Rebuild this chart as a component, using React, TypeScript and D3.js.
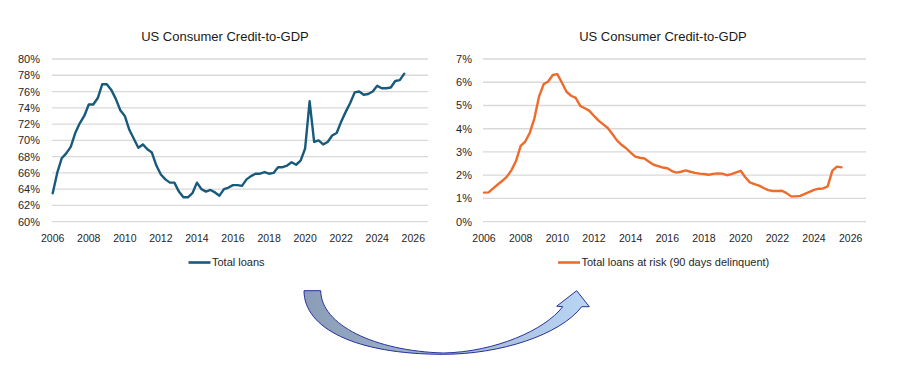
import React from "react";
import * as d3 from "d3";

// Quarterly data, 2006Q1 .. 2025Q3
const startYear = 2006;
const totalLoans = [
  63.5, 66.0, 67.8, 68.4, 69.2, 70.9, 72.1, 73.0, 74.4, 74.4,
  75.2, 76.9, 76.9, 76.2, 75.1, 73.7, 73.0, 71.3, 70.2, 69.1,
  69.5, 68.9, 68.5, 66.9, 65.8, 65.2, 64.8, 64.8, 63.7, 63.0,
  63.0, 63.5, 64.8, 64.0, 63.7, 63.9, 63.6, 63.2, 64.0, 64.2,
  64.5, 64.5, 64.4, 65.2, 65.6, 65.9, 65.9, 66.1, 65.9, 66.0,
  66.7, 66.7, 66.9, 67.3, 67.0, 67.5, 69.0, 74.8, 69.8, 70.0,
  69.5, 69.8, 70.6, 70.9, 72.3, 73.5, 74.6, 75.9, 76.0, 75.6,
  75.7, 76.0, 76.7, 76.4, 76.4, 76.5, 77.3, 77.4, 78.2,
];
const loansAtRisk = [
  1.25, 1.26, 1.43, 1.60, 1.76, 1.94, 2.22, 2.62, 3.26, 3.45,
  3.83, 4.45, 5.38, 5.91, 6.03, 6.31, 6.35, 5.98, 5.59, 5.42,
  5.33, 4.98, 4.88, 4.77, 4.55, 4.35, 4.19, 4.03, 3.77, 3.50,
  3.31, 3.16, 2.97, 2.80, 2.75, 2.72, 2.58, 2.45, 2.39, 2.33,
  2.30, 2.18, 2.11, 2.15, 2.21, 2.15, 2.10, 2.07, 2.05, 2.02,
  2.06, 2.08, 2.07, 2.00, 2.05, 2.12, 2.19, 1.91, 1.69, 1.62,
  1.55, 1.45, 1.36, 1.32, 1.32, 1.33, 1.23, 1.09, 1.09, 1.11,
  1.20, 1.28, 1.37, 1.42, 1.43, 1.53, 2.20, 2.37, 2.34,
];
const xTickYears = [2006, 2008, 2010, 2012, 2014, 2016, 2018, 2020, 2022, 2024, 2026];
const leftTicks = [60, 62, 64, 66, 68, 70, 72, 74, 76, 78, 80];
const rightTicks = [0, 1, 2, 3, 4, 5, 6, 7];
const chartTitle = "US Consumer Credit-to-GDP";
const leftLegend = "Total loans";
const rightLegend = "Total loans at risk (90 days delinquent)";

const FONT = "'Liberation Sans', Arial, sans-serif";
const TEXT = "#262626";
const GRID = "#d9d9d9";
const BLUE = "#175a7c";
const ORANGE = "#ef6b2b";

type PanelProps = {
  values: number[];
  yDomain: [number, number];
  ticks: number[];
  fmt: (v: number) => string;
  xRange: [number, number];
  gridX: [number, number];
  labelX: number;
  titleX: number;
  color: string;
  legend: string;
  legendX: number;
};

function Panel(p: PanelProps) {
  const x = d3.scaleLinear().domain([2006, 2026]).range(p.xRange);
  const y = d3.scaleLinear().domain(p.yDomain).range([221.7, 59]);
  const line = d3
    .line<number>()
    .x((_, i) => x(startYear + i / 4))
    .y((d) => y(d))
    .curve(d3.curveLinear);
  return (
    <g>
      <text x={p.titleX} y={40.5} textAnchor="middle" fontFamily={FONT} fontSize={13} fill="#1a1a1a">
        {chartTitle}
      </text>
      {p.ticks.map((t) => (
        <g key={t}>
          <line x1={p.gridX[0]} x2={p.gridX[1]} y1={y(t)} y2={y(t)} stroke={GRID} strokeWidth={1.3} />
          <text x={p.labelX} y={y(t)} dy="0.36em" textAnchor="end" fontFamily={FONT} fontSize={11} fill={TEXT}>
            {p.fmt(t)}
          </text>
        </g>
      ))}
      {xTickYears.map((yr) => (
        <text key={yr} x={x(yr)} y={242} textAnchor="middle" fontFamily={FONT} fontSize={10.5} fill={TEXT}>
          {yr}
        </text>
      ))}
      <path d={line(p.values) || ""} fill="none" stroke={p.color} strokeWidth={2.4} strokeLinejoin="round" strokeLinecap="round" />
      <line x1={p.legendX} x2={p.legendX + 22} y1={262.5} y2={262.5} stroke={p.color} strokeWidth={2.6} />
      <text x={p.legendX + 23.5} y={262.5} dy="0.36em" fontFamily={FONT} fontSize={11} fill={TEXT}>
        {p.legend}
      </text>
    </g>
  );
}

function Arrow() {
  const path = d3.path();
  path.moveTo(304, 290.7);
  path.bezierCurveTo(304, 328, 355, 354.3, 443.3, 354.3);
  path.bezierCurveTo(500, 354.3, 560, 335, 581.7, 306.7);
  path.lineTo(589.3, 306.7);
  path.lineTo(576.7, 290.7);
  path.lineTo(556.7, 306.2);
  path.lineTo(562.7, 306.7);
  path.bezierCurveTo(545, 330, 495, 352, 443.3, 353);
  path.bezierCurveTo(375, 351, 321, 325, 320.7, 290.7);
  path.closePath();
  return (
    <g>
      <defs>
        <linearGradient id="arrowGrad" x1="304" x2="589" y1="0" y2="0" gradientUnits="userSpaceOnUse">
          <stop offset="0" stopColor="#8b9db6" />
          <stop offset="0.5" stopColor="#a0b6d3" />
          <stop offset="1" stopColor="#bad5f5" />
        </linearGradient>
      </defs>
      <path d={path.toString()} fill="url(#arrowGrad)" stroke="#27309a" strokeWidth={1} strokeLinejoin="miter" />
    </g>
  );
}

export default function App() {
  return (
    <svg
      width={903}
      height={382}
      style={{ position: "absolute", left: 0, top: 0, background: "#fff" }}
    >
      <rect width={903} height={382} fill="#fff" />
      <Panel
        values={totalLoans}
        yDomain={[60, 80]}
        ticks={leftTicks}
        fmt={(v) => `${v}%`}
        xRange={[52.7, 413.3]}
        gridX={[52, 428]}
        labelX={40}
        titleX={225}
        color={BLUE}
        legend={leftLegend}
        legendX={188.5}
      />
      <Panel
        values={loansAtRisk}
        yDomain={[0, 7]}
        ticks={rightTicks}
        fmt={(v) => `${v}%`}
        xRange={[484, 850.7]}
        gridX={[483, 866]}
        labelX={472}
        titleX={663}
        color={ORANGE}
        legend={rightLegend}
        legendX={558}
      />
      <Arrow />
    </svg>
  );
}
